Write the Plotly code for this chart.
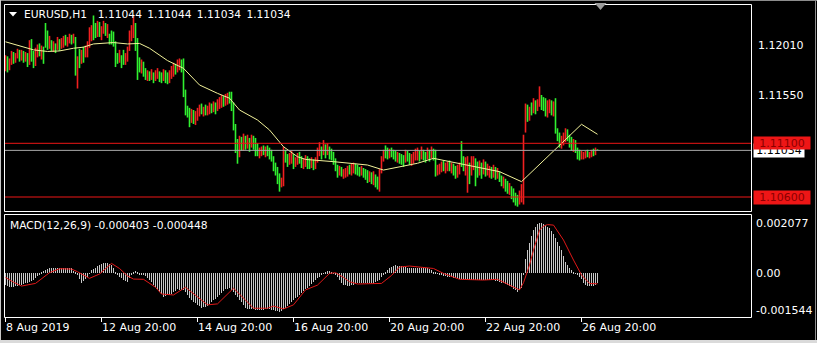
import plotly.graph_objects as go

# ---------------- data (EURUSD H1, 8 Aug 2019 20:00 ... 27 Aug 2019) ----------------
OPEN = [
    1.1178,1.1190,1.1179,1.1185,1.1194,1.1186,1.1191,1.1195,1.1188,1.1194,1.1187,1.1192,
    1.1184,1.1205,1.1193,1.1183,1.1192,1.1201,1.1190,1.1198,1.1219,1.1213,1.1199,1.1205,
    1.1196,1.1202,1.1198,1.1206,1.1199,1.1201,1.1209,1.1201,1.1204,1.1210,1.1204,1.1208,
    1.1163,1.1196,1.1185,1.1198,1.1191,1.1192,1.1200,1.1207,1.1227,1.1220,1.1210,1.1222,
    1.1208,1.1213,1.1221,1.1209,1.1211,1.1214,1.1212,1.1203,1.1193,1.1186,1.1191,1.1196,
    1.1184,1.1188,1.1197,1.1206,1.1210,1.1220,1.1206,1.1188,1.1177,1.1185,1.1179,1.1169,
    1.1176,1.1170,1.1175,1.1169,1.1171,1.1176,1.1175,1.1169,1.1177,1.1175,1.1167,1.1172,
    1.1173,1.1183,1.1177,1.1179,1.1187,1.1187,1.1158,1.1144,1.1142,1.1130,1.1140,1.1128,
    1.1132,1.1136,1.1146,1.1136,1.1145,1.1137,1.1138,1.1146,1.1140,1.1147,1.1141,1.1143,
    1.1144,1.1153,1.1146,1.1147,1.1157,1.1156,1.1146,1.1126,1.1112,1.1098,1.1115,1.1104,
    1.1116,1.1106,1.1114,1.1107,1.1116,1.1113,1.1109,1.1097,1.1099,1.1107,1.1098,1.1107,
    1.1105,1.1103,1.1097,1.1091,1.1087,1.1081,1.1070,1.1072,1.1103,1.1099,1.1091,1.1092,
    1.1099,1.1089,1.1091,1.1101,1.1097,1.1087,1.1089,1.1097,1.1095,1.1088,1.1094,1.1087,
    1.1093,1.1099,1.1106,1.1100,1.1108,1.1100,1.1106,1.1104,1.1101,1.1095,1.1089,1.1081,
    1.1087,1.1078,1.1079,1.1080,1.1089,1.1081,1.1083,1.1090,1.1089,1.1087,1.1081,1.1086,
    1.1085,1.1084,1.1075,1.1082,1.1072,1.1080,1.1078,1.1066,1.1083,1.1094,1.1107,1.1105,
    1.1097,1.1105,1.1103,1.1102,1.1093,1.1100,1.1099,1.1098,1.1093,1.1102,1.1100,1.1090,
    1.1092,1.1095,1.1095,1.1102,1.1096,1.1103,1.1101,1.1096,1.1103,1.1097,1.1104,1.1103,
    1.1081,1.1082,1.1084,1.1093,1.1083,1.1085,1.1093,1.1083,1.1090,1.1088,1.1079,1.1082,
    1.1095,1.1097,1.1081,1.1066,1.1091,1.1081,1.1086,1.1095,1.1092,1.1081,1.1091,1.1082,
    1.1092,1.1081,1.1079,1.1087,1.1079,1.1087,1.1078,1.1083,1.1079,1.1069,1.1076,1.1074,
    1.1063,1.1069,1.1067,1.1063,1.1061,1.1054,1.1056,1.1057,1.1121,1.1145,1.1132,1.1147,
    1.1139,1.1149,1.1141,1.1145,1.1154,1.1152,1.1151,1.1135,1.1139,1.1149,1.1136,1.1151,
    1.1123,1.1119,1.1106,1.1109,1.1112,1.1122,1.1117,1.1115,1.1103,1.1112,1.1105,1.1103,
    1.1096,1.1096,1.1097,1.1103,1.1097,1.1098,1.1104,1.1100,1.11044,
]
HIGH = [
    1.1192,1.1191,1.1189,1.1196,1.1195,1.1194,1.1198,1.1197,1.1197,1.1196,1.1195,1.1194,
    1.1206,1.1207,1.1196,1.1199,1.1202,1.1203,1.1201,1.1200,1.1222,1.1215,1.1210,1.1206,
    1.1205,1.1203,1.1209,1.1207,1.1208,1.1210,1.1211,1.1209,1.1212,1.1211,1.1212,1.1209,
    1.1191,1.1198,1.1197,1.1200,1.1201,1.1205,1.1218,1.1220,1.1229,1.1222,1.1224,1.1223,
    1.1219,1.1224,1.1222,1.1221,1.1212,1.1215,1.1214,1.1205,1.1194,1.1197,1.1192,1.1197,
    1.1194,1.1200,1.1215,1.1220,1.1229,1.1222,1.1208,1.1190,1.1188,1.1186,1.1180,1.1178,
    1.1177,1.1179,1.1176,1.1178,1.1180,1.1177,1.1176,1.1179,1.1178,1.1176,1.1178,1.1182,
    1.1185,1.1184,1.1188,1.1189,1.1188,1.1189,1.1160,1.1145,1.1143,1.1142,1.1141,1.1140,
    1.1143,1.1146,1.1147,1.1144,1.1146,1.1145,1.1148,1.1147,1.1149,1.1148,1.1151,1.1153,
    1.1155,1.1154,1.1156,1.1157,1.1158,1.1158,1.1148,1.1128,1.1114,1.1117,1.1116,1.1119,
    1.1117,1.1118,1.1115,1.1118,1.1117,1.1115,1.1110,1.1106,1.1107,1.1108,1.1107,1.1108,
    1.1106,1.1104,1.1098,1.1092,1.1088,1.1082,1.1078,1.1107,1.1104,1.1100,1.1101,1.1103,
    1.1100,1.1097,1.1101,1.1102,1.1098,1.1096,1.1099,1.1098,1.1096,1.1097,1.1095,1.1097,
    1.1106,1.1111,1.1107,1.1113,1.1109,1.1110,1.1107,1.1105,1.1102,1.1096,1.1090,1.1089,
    1.1088,1.1086,1.1087,1.1089,1.1090,1.1091,1.1092,1.1091,1.1090,1.1088,1.1089,1.1087,
    1.1086,1.1085,1.1084,1.1083,1.1084,1.1081,1.1079,1.1086,1.1098,1.1104,1.1108,1.1106,
    1.1105,1.1106,1.1104,1.1103,1.1102,1.1101,1.1100,1.1099,1.1104,1.1103,1.1101,1.1100,
    1.1102,1.1105,1.1106,1.1103,1.1107,1.1104,1.1102,1.1106,1.1104,1.1107,1.1105,1.1104,
    1.1090,1.1091,1.1093,1.1094,1.1092,1.1093,1.1094,1.1092,1.1091,1.1089,1.1090,1.1092,
    1.1112,1.1098,1.1097,1.1098,1.1092,1.1098,1.1098,1.1096,1.1093,1.1094,1.1092,1.1095,
    1.1093,1.1091,1.1089,1.1088,1.1090,1.1088,1.1087,1.1084,1.1080,1.1079,1.1077,1.1075,
    1.1073,1.1070,1.1068,1.1064,1.1062,1.1066,1.1072,1.1118,1.1147,1.1146,1.1144,1.1148,
    1.1152,1.1150,1.1151,1.1163,1.1155,1.1153,1.1152,1.1150,1.1151,1.1150,1.1149,1.1152,
    1.1124,1.1120,1.1117,1.1120,1.1124,1.1123,1.1118,1.1116,1.1114,1.1113,1.1106,1.1104,
    1.1103,1.1102,1.1103,1.1104,1.1102,1.1104,1.1105,1.1106,1.11044,
]
LOW = [
    1.1177,1.1176,1.1178,1.1183,1.1184,1.1185,1.1189,1.1186,1.1187,1.1185,1.1186,1.1181,
    1.1183,1.1186,1.1180,1.1182,1.1190,1.1191,1.1188,1.1184,1.1199,1.1197,1.1198,1.1196,
    1.1195,1.1194,1.1197,1.1196,1.1198,1.1199,1.1201,1.1200,1.1203,1.1202,1.1203,1.1173,
    1.1161,1.1180,1.1184,1.1185,1.1190,1.1190,1.1199,1.1205,1.1206,1.1208,1.1209,1.1209,
    1.1206,1.1212,1.1210,1.1208,1.1202,1.1202,1.1200,1.1181,1.1184,1.1185,1.1180,1.1183,
    1.1183,1.1186,1.1196,1.1205,1.1208,1.1196,1.1169,1.1176,1.1175,1.1172,1.1169,1.1168,
    1.1168,1.1169,1.1166,1.1168,1.1170,1.1167,1.1166,1.1168,1.1166,1.1165,1.1166,1.1170,
    1.1172,1.1174,1.1176,1.1178,1.1176,1.1153,1.1136,1.1134,1.1125,1.1129,1.1128,1.1127,
    1.1131,1.1135,1.1137,1.1135,1.1136,1.1136,1.1137,1.1138,1.1139,1.1137,1.1140,1.1142,
    1.1143,1.1144,1.1145,1.1146,1.1147,1.1140,1.1122,1.1101,1.1091,1.1097,1.1103,1.1103,
    1.1104,1.1105,1.1102,1.1106,1.1104,1.1098,1.1098,1.1096,1.1098,1.1099,1.1097,1.1098,
    1.1095,1.1093,1.1084,1.1080,1.1072,1.1065,1.1069,1.1070,1.1092,1.1088,1.1090,1.1091,
    1.1086,1.1088,1.1090,1.1091,1.1087,1.1086,1.1088,1.1086,1.1086,1.1087,1.1085,1.1086,
    1.1092,1.1098,1.1095,1.1099,1.1096,1.1099,1.1095,1.1094,1.1090,1.1084,1.1078,1.1080,
    1.1079,1.1077,1.1078,1.1079,1.1081,1.1080,1.1082,1.1081,1.1080,1.1079,1.1080,1.1078,
    1.1076,1.1073,1.1074,1.1072,1.1071,1.1069,1.1067,1.1065,1.1082,1.1093,1.1096,1.1095,
    1.1096,1.1097,1.1095,1.1093,1.1092,1.1091,1.1090,1.1088,1.1092,1.1093,1.1090,1.1089,
    1.1091,1.1094,1.1094,1.1093,1.1095,1.1094,1.1092,1.1095,1.1093,1.1096,1.1094,1.1079,
    1.1080,1.1081,1.1083,1.1084,1.1082,1.1084,1.1084,1.1082,1.1080,1.1077,1.1078,1.1081,
    1.1088,1.1084,1.1080,1.1064,1.1072,1.1080,1.1085,1.1070,1.1078,1.1080,1.1077,1.1081,
    1.1079,1.1080,1.1078,1.1077,1.1078,1.1076,1.1077,1.1074,1.1070,1.1068,1.1065,1.1063,
    1.1062,1.1058,1.1055,1.1052,1.1051,1.1053,1.1055,1.1053,1.1120,1.1130,1.1131,1.1136,
    1.1138,1.1137,1.1140,1.1144,1.1141,1.1140,1.1135,1.1134,1.1138,1.1136,1.1135,1.1119,
    1.1112,1.1106,1.1105,1.1108,1.1111,1.1112,1.1106,1.1103,1.1102,1.1101,1.1095,1.1094,
    1.1095,1.1095,1.1096,1.1097,1.1096,1.1097,1.1098,1.1099,1.11034,
]
CLOSE = [
    1.1191,1.1177,1.1188,1.1194,1.1186,1.1192,1.1197,1.1188,1.1196,1.1186,1.1193,1.1183,
    1.1204,1.1188,1.1182,1.1197,1.1201,1.1193,1.1199,1.1185,1.1201,1.1199,1.1208,1.1197,
    1.1203,1.1195,1.1207,1.1198,1.1206,1.1209,1.1202,1.1208,1.1211,1.1203,1.1210,1.1175,
    1.1189,1.1182,1.1195,1.1187,1.1199,1.1204,1.1216,1.1219,1.1208,1.1210,1.1222,1.1211,
    1.1217,1.1222,1.1212,1.1219,1.1203,1.1204,1.1202,1.1183,1.1186,1.1195,1.1182,1.1185,
    1.1192,1.1199,1.1213,1.1218,1.1226,1.1198,1.1171,1.1178,1.1186,1.1174,1.1171,1.1176,
    1.1170,1.1178,1.1168,1.1176,1.1179,1.1169,1.1167,1.1178,1.1168,1.1167,1.1177,1.1181,
    1.1184,1.1176,1.1187,1.1188,1.1178,1.1155,1.1138,1.1136,1.1127,1.1140,1.1130,1.1139,
    1.1142,1.1145,1.1138,1.1143,1.1137,1.1144,1.1147,1.1139,1.1148,1.1138,1.1150,1.1152,
    1.1154,1.1145,1.1155,1.1156,1.1148,1.1142,1.1124,1.1103,1.1093,1.1116,1.1104,1.1118,
    1.1105,1.1117,1.1103,1.1117,1.1105,1.1099,1.1100,1.1105,1.1106,1.1100,1.1106,1.1099,
    1.1096,1.1094,1.1086,1.1082,1.1074,1.1067,1.1077,1.1105,1.1094,1.1090,1.1100,1.1102,
    1.1088,1.1096,1.1100,1.1092,1.1089,1.1095,1.1098,1.1088,1.1087,1.1096,1.1086,1.1096,
    1.1105,1.1110,1.1096,1.1112,1.1097,1.1109,1.1096,1.1095,1.1091,1.1085,1.1079,1.1088,
    1.1080,1.1085,1.1086,1.1088,1.1082,1.1090,1.1091,1.1082,1.1081,1.1080,1.1088,1.1079,
    1.1077,1.1074,1.1083,1.1073,1.1083,1.1070,1.1068,1.1085,1.1097,1.1103,1.1097,1.1096,
    1.1104,1.1098,1.1096,1.1094,1.1101,1.1092,1.1091,1.1089,1.1103,1.1094,1.1091,1.1099,
    1.1101,1.1104,1.1105,1.1094,1.1106,1.1095,1.1093,1.1105,1.1094,1.1106,1.1095,1.1081,
    1.1089,1.1090,1.1092,1.1085,1.1091,1.1092,1.1085,1.1091,1.1081,1.1078,1.1089,1.1091,
    1.1089,1.1085,1.1096,1.1096,1.1073,1.1097,1.1097,1.1072,1.1079,1.1093,1.1078,1.1094,
    1.1080,1.1090,1.1088,1.1078,1.1089,1.1077,1.1086,1.1075,1.1071,1.1078,1.1066,1.1064,
    1.1072,1.1059,1.1056,1.1053,1.1052,1.1065,1.1071,1.1116,1.1145,1.1131,1.1143,1.1137,
    1.1151,1.1138,1.1150,1.1150,1.1142,1.1141,1.1136,1.1149,1.1150,1.1137,1.1148,1.1121,
    1.1113,1.1107,1.1116,1.1119,1.1123,1.1113,1.1107,1.1104,1.1113,1.1102,1.1096,1.1095,
    1.1102,1.1101,1.1102,1.1098,1.1101,1.1103,1.1099,1.1105,1.11034,
]

# moving average (yellow) read at these bar positions
MA_BARS = [0, 8, 14, 21, 27, 34, 39, 44, 54, 61, 67, 72, 81, 89, 97, 106, 112, 117, 126, 132,
           139, 146, 150, 164, 181, 189, 197, 206, 214, 222, 239, 247, 258, 288, 296]
MA_VALUES = [1.12045, 1.1200, 1.1197, 1.11955, 1.1196, 1.11985, 1.11995, 1.12025, 1.12038, 1.12025,
             1.1203, 1.11985, 1.1187, 1.11798, 1.11643, 1.11565, 1.1152, 1.1141, 1.11317, 1.11224,
             1.11068, 1.10975, 1.1095, 1.10929, 1.10898, 1.10851, 1.10882, 1.10914, 1.1096, 1.10929,
             1.10867, 1.10836, 1.10743, 1.11277, 1.11184]

# MACD(12,26,9) main histogram, one value per bar
MACD_MAIN = [
    -500e-6,-530e-6,-560e-6,-590e-6,-575e-6,-555e-6,-540e-6,-510e-6,-485e-6,-455e-6,-430e-6,-395e-6,
    -360e-6,-325e-6,-290e-6,-205e-6,-120e-6,-40e-6,30e-6,100e-6,140e-6,180e-6,220e-6,225e-6,
    230e-6,225e-6,220e-6,220e-6,220e-6,215e-6,210e-6,200e-6,195e-6,190e-6,100e-6,10e-6,
    -80e-6,-240e-6,-400e-6,-320e-6,-230e-6,-150e-6,-15e-6,120e-6,170e-6,225e-6,280e-6,330e-6,
    365e-6,400e-6,430e-6,400e-6,365e-6,330e-6,190e-6,55e-6,-80e-6,-150e-6,-220e-6,-290e-6,
    -325e-6,-360e-6,-220e-6,-80e-6,10e-6,100e-6,30e-6,-40e-6,-65e-6,-95e-6,-120e-6,-210e-6,
    -300e-6,-390e-6,-480e-6,-570e-6,-670e-6,-780e-6,-880e-6,-980e-6,-955e-6,-930e-6,-910e-6,-850e-6,
    -795e-6,-735e-6,-680e-6,-685e-6,-690e-6,-700e-6,-805e-6,-910e-6,-1015e-6,-1120e-6,-1185e-6,-1250e-6,
    -1310e-6,-1375e-6,-1440e-6,-1415e-6,-1395e-6,-1370e-6,-1290e-6,-1215e-6,-1135e-6,-1060e-6,-980e-6,-905e-6,
    -830e-6,-755e-6,-680e-6,-655e-6,-630e-6,-720e-6,-805e-6,-895e-6,-980e-6,-1100e-6,-1220e-6,-1340e-6,
    -1460e-6,-1475e-6,-1485e-6,-1495e-6,-1505e-6,-1520e-6,-1530e-6,-1525e-6,-1520e-6,-1515e-6,-1510e-6,-1505e-6,
    -1500e-6,-1520e-6,-1540e-6,-1560e-6,-1580e-6,-1600e-6,-1555e-6,-1505e-6,-1460e-6,-1380e-6,-1295e-6,-1215e-6,
    -1130e-6,-1050e-6,-975e-6,-900e-6,-830e-6,-755e-6,-680e-6,-600e-6,-525e-6,-445e-6,-370e-6,-290e-6,
    -220e-6,-150e-6,-85e-6,-15e-6,30e-6,70e-6,65e-6,55e-6,-25e-6,-100e-6,-180e-6,-285e-6,
    -395e-6,-500e-6,-515e-6,-530e-6,-540e-6,-510e-6,-485e-6,-455e-6,-430e-6,-420e-6,-415e-6,-405e-6,
    -400e-6,-400e-6,-400e-6,-400e-6,-400e-6,-365e-6,-330e-6,-290e-6,-165e-6,-40e-6,35e-6,115e-6,
    190e-6,235e-6,275e-6,320e-6,310e-6,300e-6,280e-6,260e-6,240e-6,220e-6,215e-6,205e-6,
    200e-6,195e-6,190e-6,195e-6,200e-6,210e-6,215e-6,220e-6,165e-6,110e-6,55e-6,10e-6,
    -35e-6,-80e-6,-100e-6,-115e-6,-135e-6,-150e-6,-165e-6,-180e-6,-190e-6,-205e-6,-220e-6,-230e-6,
    -245e-6,-255e-6,-265e-6,-280e-6,-290e-6,-285e-6,-295e-6,-290e-6,-288e-6,-292e-6,-290e-6,-287e-6,
    -293e-6,-290e-6,-288e-6,-292e-6,-290e-6,-320e-6,-345e-6,-375e-6,-400e-6,-430e-6,-470e-6,-510e-6,
    -550e-6,-590e-6,-650e-6,-710e-6,-770e-6,-700e-6,-600e-6,-100e-6,600e-6,950e-6,1250e-6,1550e-6,
    1780e-6,1920e-6,2030e-6,2077e-6,2060e-6,2045e-6,2010e-6,1930e-6,1850e-6,1745e-6,1640e-6,1470e-6,
    1300e-6,1125e-6,950e-6,710e-6,470e-6,330e-6,190e-6,120e-6,55e-6,-10e-6,-80e-6,-170e-6,
    -260e-6,-400e-6,-480e-6,-520e-6,-545e-6,-555e-6,-550e-6,-500e-6,-403e-6,
]

# MACD signal line (red) read at these bar positions
SIGNAL_BARS = [0, 4, 8, 15, 22, 27, 33, 36, 42, 47, 53, 57, 61, 64, 69, 75, 78, 84, 90, 95,
               101, 106, 114, 120, 124, 131, 134, 139, 144, 150, 156, 162, 165, 169, 172, 176, 185, 188,
               193, 197, 202, 208, 214, 219, 227, 239, 246, 252, 257, 259, 262, 264, 266, 267, 269, 271,
               274, 279, 284, 288, 292, 296]
SIGNAL_VALUES = [-180e-6, -380e-6, -540e-6, -430e-6, 15e-6, 180e-6, 165e-6, 55e-6, -220e-6, -40e-6,
                 400e-6, 190e-6, -120e-6, -250e-6, -260e-6, -590e-6, -870e-6, -910e-6, -590e-6, -910e-6,
                 -1320e-6, -1280e-6, -630e-6, -1120e-6, -1460e-6, -1460e-6, -1370e-6, -1490e-6, -1320e-6, -700e-6,
                 -500e-6, -15e-6, 15e-6, -180e-6, -360e-6, -455e-6, -455e-6, -430e-6,
                 -100e-6, 250e-6, 290e-6, 240e-6, 190e-6, -15e-6, -260e-6, -290e-6, -260e-6, -500e-6,
                 -700e-6, -400e-6, 330e-6, 950e-6, 1500e-6, 1780e-6, 1950e-6, 2010e-6, 1990e-6, 1370e-6,
                 540e-6, -80e-6, -430e-6, -448e-6]

X_TICK_BARS = [0, 48, 96, 144, 192, 240, 288]
X_TICK_TEXT = ["8 Aug 2019", "12 Aug 20:00", "14 Aug 20:00", "16 Aug 20:00",
               "20 Aug 20:00", "22 Aug 20:00", "26 Aug 20:00"]
PRICE_TICKS = [1.1201, 1.1155]
PRICE_TICK_TEXT = ["1.12010", "1.11550"]
MACD_TICKS = [0.002077, 0.0, -0.001544]
MACD_TICK_TEXT = ["0.002077", "0.00", "-0.001544"]
HLINE_LEVELS = [1.111, 1.106]
BID = 1.11034

# ---------------- styling ----------------
W, H = 817, 343
FONT = "DejaVu Sans"
RED_BAR = "#f02020"      # rising bars
GREEN_BAR = "#30f030"    # falling bars
YELLOW = "#f2f29a"
SILVER = "#c8c8c8"
SIG_RED = "#e01818"
HL_RED = "#ee1616"


def px(x):
    return x / W


def py(y):
    return 1 - y / H


bars = list(range(len(CLOSE)))


def bar_strokes(rising):
    """High-low strokes (None-separated) of the rising or of the falling hours."""
    xs, ys = [], []
    for i, (o, h, l, c) in enumerate(zip(OPEN, HIGH, LOW, CLOSE)):
        if (c >= o) == rising:
            xs += [i, i, None]
            ys += [l, h, None]
    return xs, ys


fig = go.Figure()
for rising, col in [(True, RED_BAR), (False, GREEN_BAR)]:
    xs, ys = bar_strokes(rising)
    fig.add_trace(go.Scatter(
        x=xs, y=ys, mode="lines", line=dict(color=col, width=1.6),
        connectgaps=False, xaxis="x", yaxis="y", hoverinfo="skip", showlegend=False))
fig.add_trace(go.Scatter(
    x=MA_BARS, y=MA_VALUES, mode="lines", line=dict(color=YELLOW, width=1),
    xaxis="x", yaxis="y", hoverinfo="skip", showlegend=False))
fig.add_trace(go.Bar(
    x=bars, y=MACD_MAIN, width=0.5, marker=dict(color=SILVER, line=dict(width=0)),
    xaxis="x2", yaxis="y2", hoverinfo="skip", showlegend=False))
fig.add_trace(go.Scatter(
    x=SIGNAL_BARS, y=SIGNAL_VALUES, mode="lines", line=dict(color=SIG_RED, width=1),
    xaxis="x2", yaxis="y2", hoverinfo="skip", showlegend=False))

XRANGE = [-0.25, 372.75]
XDOM = [px(5), px(751)]

shapes = []
for lv in HLINE_LEVELS:
    shapes.append(dict(type="line", xref="paper", yref="y", x0=px(5), x1=px(751), y0=lv, y1=lv,
                       line=dict(color=HL_RED, width=1), layer="above"))
shapes.append(dict(type="line", xref="paper", yref="y", x0=px(5), x1=px(751), y0=BID, y1=BID,
                   line=dict(color="#a8a8a8", width=1), layer="above"))
for (y0, y1) in [(4.5, 211.5), (214.5, 317.5)]:
    shapes.append(dict(type="rect", xref="paper", yref="paper", x0=px(4.5), x1=px(751.5),
                       y0=py(y1), y1=py(y0), line=dict(color="#ffffff", width=1),
                       fillcolor="rgba(0,0,0,0)", layer="above"))
shapes.append(dict(type="rect", xref="paper", yref="paper", x0=0, x1=1,
                   y0=0, y1=py(340), line=dict(width=0), fillcolor="#dadada", layer="above"))
shapes.append(dict(type="line", xref="paper", yref="paper", x0=0, x1=1, y0=py(0.5), y1=py(0.5),
                   line=dict(color="#8c8c8c", width=1), layer="above"))
shapes.append(dict(type="line", xref="paper", yref="paper", x0=px(815.5), x1=px(815.5),
                   y0=py(340), y1=1, line=dict(color="#8c8c8c", width=1), layer="above"))
shapes.append(dict(type="line", xref="paper", yref="paper", x0=px(0.5), x1=px(0.5),
                   y0=py(340), y1=1, line=dict(color="#c8c8c8", width=1), layer="above"))
shapes.append(dict(type="path", xref="paper", yref="paper",
                   path=f"M {px(9)} {py(12)} L {px(17)} {py(12)} L {px(13)} {py(16.5)} Z",
                   fillcolor="#ffffff", line=dict(width=0), layer="above"))
shapes.append(dict(type="path", xref="paper", yref="paper",
                   path=f"M {px(594.5)} {py(3)} L {px(606.5)} {py(3)} L {px(600.5)} {py(10)} Z",
                   fillcolor="#9c9c9c", line=dict(width=0), layer="above"))

annotations = [
    dict(text="EURUSD,H1\u2002\u20021.11044\u20021.11044\u20021.11034\u20021.11034",
         xref="paper", yref="paper", x=px(22), y=py(14.5), xanchor="left", yanchor="middle",
         showarrow=False, font=dict(family=FONT, size=10.7, color="#ffffff")),
    dict(text="MACD(12,26,9) -0.000403 -0.000448",
         xref="paper", yref="paper", x=px(8), y=py(225), xanchor="left", yanchor="middle",
         showarrow=False, font=dict(family=FONT, size=10.7, color="#ffffff")),
    dict(text="1.11034", xref="paper", yref="y", x=px(753), y=BID, xanchor="left", yanchor="middle",
         showarrow=False, width=50, height=13, borderpad=0, bgcolor="#ffffff", align="center",
         font=dict(family=FONT, size=11, color="#000000")),
    dict(text="1.11100", xref="paper", yref="y", x=px(752.5), y=HLINE_LEVELS[0], xanchor="left",
         yanchor="middle", showarrow=False, width=56, height=12, borderpad=0, bgcolor=HL_RED,
         align="center", font=dict(family=FONT, size=11, color="#8a0000")),
    dict(text="1.10600", xref="paper", yref="y", x=px(752.5), y=HLINE_LEVELS[1], xanchor="left",
         yanchor="middle", showarrow=False, width=56, height=13, borderpad=0, bgcolor=HL_RED,
         align="center", font=dict(family=FONT, size=11, color="#8a0000")),
]

axis_font = dict(family=FONT, size=11, color="#ffffff")

fig.update_layout(
    width=W, height=H, margin=dict(l=0, r=0, t=0, b=0),
    paper_bgcolor="#000000", plot_bgcolor="#000000",
    showlegend=False, bargap=0,
    shapes=shapes, annotations=annotations,
    xaxis=dict(domain=XDOM, range=XRANGE, anchor="y", showticklabels=False, ticks="",
               showgrid=False, zeroline=False, showline=False),
    xaxis2=dict(domain=XDOM, range=XRANGE, anchor="y2", tickmode="array",
                tickvals=X_TICK_BARS, ticktext=X_TICK_TEXT, ticks="outside", ticklen=4,
                tickcolor="#ffffff", tickwidth=1, ticklabelposition="outside right",
                tickfont=axis_font, showgrid=False, zeroline=False, showline=False),
    yaxis=dict(domain=[py(211), py(5)], range=[1.104697, 1.123876], anchor="x", side="right",
               tickmode="array", tickvals=PRICE_TICKS, ticktext=PRICE_TICK_TEXT, ticks="",
               ticklabelstandoff=6, tickfont=axis_font, showgrid=False, zeroline=False,
               showline=False),
    yaxis2=dict(domain=[py(317), py(215)], range=[-0.001824, 0.002409], anchor="x2", side="right",
                tickmode="array", tickvals=MACD_TICKS, ticktext=MACD_TICK_TEXT, ticks="",
                ticklabelstandoff=4, tickfont=axis_font, showgrid=False, zeroline=False,
                showline=False),
)

fig.write_html("out.html")
